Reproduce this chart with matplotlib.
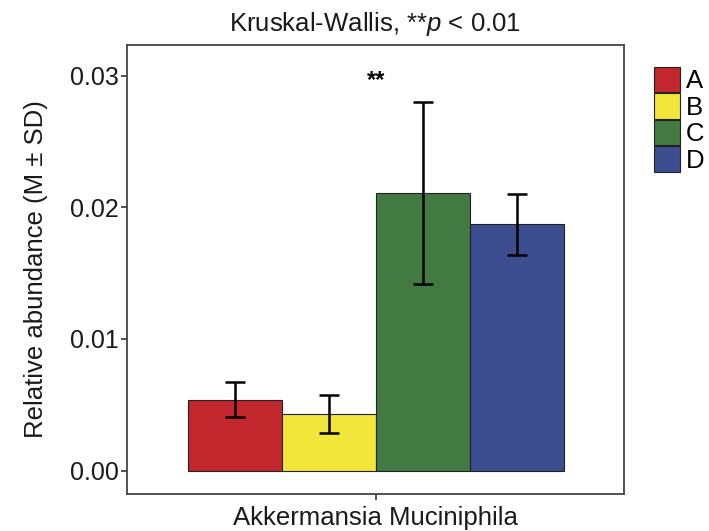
import matplotlib
matplotlib.use("Agg")
import matplotlib.pyplot as plt
from matplotlib.patches import Patch
import numpy as np

plt.rcParams['font.family'] = ['Liberation Sans', 'DejaVu Sans']
plt.rcParams['mathtext.fontset'] = 'custom'
plt.rcParams['mathtext.it'] = 'Liberation Sans:italic'
plt.rcParams['mathtext.rm'] = 'Liberation Sans'

groups = ['A', 'B', 'C', 'D']
means = [0.0054, 0.0043, 0.0211, 0.0187]
sds = [0.0013, 0.00145, 0.0069, 0.0023]
colors = ['#C1272D', '#F2E63A', '#437A42', '#3C4E8F']
category = 'Akkermansia Muciniphila'
yticks = [0.00, 0.01, 0.02, 0.03]
ytick_labels = ['0.00', '0.01', '0.02', '0.03']

fig = plt.figure(figsize=(7.09, 5.31), dpi=100)
ax = fig.add_axes([127/709, 1-494/531, (624-127)/709, (494-45)/531])

width = 0.225
offsets = (np.arange(len(groups)) - 1.5) * width
for i, g in enumerate(groups):
    ax.bar(1 + offsets[i], means[i], width=width, color=colors[i],
           edgecolor='#222222', linewidth=0.8, zorder=2)
    ax.errorbar(1 + offsets[i], means[i], yerr=sds[i], fmt='none',
                ecolor='black', elinewidth=1.8, capsize=7.5, capthick=1.8, zorder=3)

ax.text(1, 0.0296, '**', ha='center', va='center', fontsize=17, fontweight='bold')

ax.set_xlim(1 - 0.597, 1 + 0.595)
ax.set_ylim(-0.00177, 0.03232)
ax.set_yticks(yticks)
ax.set_yticklabels(ytick_labels, fontsize=18, color='#1a1a1a')
ax.set_xticks([1])
ax.set_xticklabels([category], fontsize=18.5, color='#1a1a1a')
ax.tick_params(axis='y', direction='out', length=4, width=1.2, color='#333333', pad=2)
ax.tick_params(axis='x', direction='out', length=4, width=1.2, color='#333333', pad=5)
for s in ax.spines.values():
    s.set_color('#444444')
    s.set_linewidth(1.3)

ax.set_ylabel('Relative abundance (M ± SD)', fontsize=18.5, color='#1a1a1a', labelpad=16)
ax.set_title(r'Kruskal-Wallis, **$\it{p}$ < 0.01', fontsize=18.5, color='#1a1a1a', pad=10)

handles = [Patch(facecolor=c, edgecolor='#222222', linewidth=0.8) for c in colors]
fig.legend(handles, groups, loc='upper left', bbox_to_anchor=(650/709, 1-63/531),
           frameon=False, fontsize=18.5, handlelength=1.0, handleheight=1.15,
           labelspacing=0.0, handletextpad=0.25, borderpad=0.15, borderaxespad=0)

fig.savefig('out.png', dpi=100)
